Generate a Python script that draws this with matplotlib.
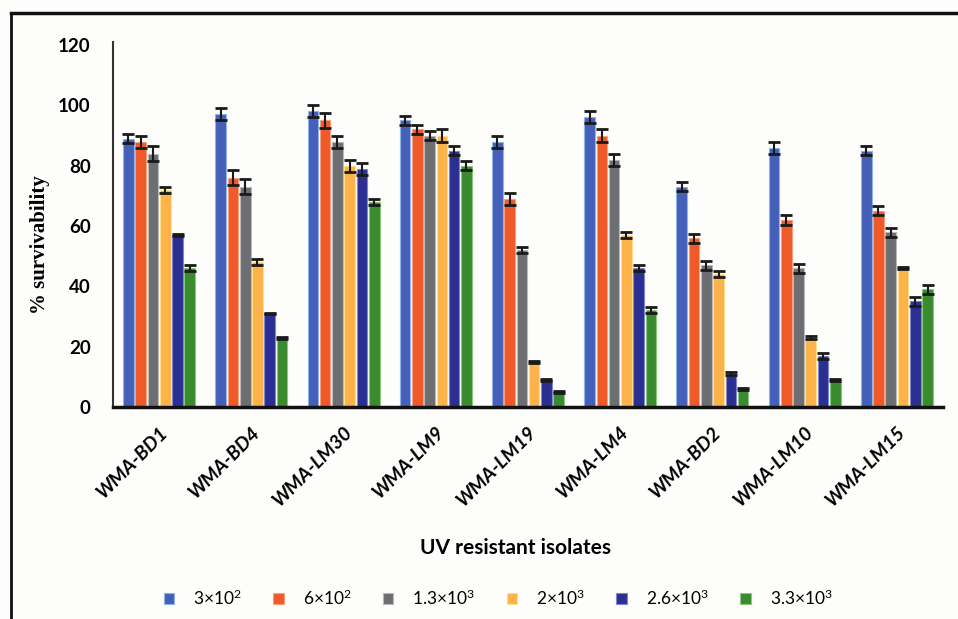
import matplotlib.pyplot as plt
import numpy as np
from matplotlib.lines import Line2D

plt.rcParams['font.family'] = ['Lato', 'DejaVu Sans']
plt.rcParams['mathtext.default'] = 'regular'

isolates = ["WMA-BD1", "WMA-BD4", "WMA-LM30", "WMA-LM9", "WMA-LM19",
            "WMA-LM4", "WMA-BD2", "WMA-LM10", "WMA-LM15"]
doses = ["3×10$^2$", "6×10$^2$", "1.3×10$^3$", "2×10$^3$", "2.6×10$^3$", "3.3×10$^3$"]

# % survivability per dose (rows) for each isolate (columns)
d1 = [89, 97, 98, 95, 88, 96, 73, 86, 85]
d2 = [88, 76, 95, 92, 69, 90, 56, 62, 65]
d3 = [84, 73, 88, 90, 52, 82, 47, 46, 58]
d4 = [72, 48, 80, 90, 15, 57, 44, 23, 46]
d5 = [57, 31, 79, 85, 9, 46, 11, 17, 35]
d6 = [46, 23, 68, 80, 5, 32, 6, 9, 39]

e1 = [1.5, 2, 2, 1.5, 2, 2, 1.5, 2, 1.5]
e2 = [2, 2.5, 2.5, 1.5, 2, 2, 1.5, 1.5, 1.5]
e3 = [2.5, 2.5, 2, 1.5, 1, 2, 1.5, 1.5, 1.5]
e4 = [1, 1, 2, 2, 0.3, 1, 1, 0.5, 0.3]
e5 = [0.3, 0.3, 2, 1.5, 0.3, 1, 0.5, 1, 1.5]
e6 = [1, 0.3, 1, 1.5, 0.3, 1, 0.3, 0.3, 1.5]

values = [d1, d2, d3, d4, d5, d6]
errors = [e1, e2, e3, e4, e5, e6]
colors = ["#4560B8", "#F05A28", "#6D6E72", "#FDB24A", "#2B2F92", "#3A8A2E"]
edges = ["#8FB4EA", "#F9A07A", "#B8B9BC", "#FFE08A", "#7F86D4", "#8CC77F"]

fig = plt.figure(figsize=(9.58, 6.19), dpi=100)
fig.patch.set_facecolor("#FDFDFB")
ax = fig.add_axes([113/958, 1-407/619, (943-113)/958, (407-42)/619])
ax.set_facecolor("#FDFDFB")

x = np.arange(len(isolates))
pitch = 0.133
width = 0.115
for i in range(6):
    pos = x + (i - 2.5) * pitch
    ax.bar(pos, values[i], width=width, color=colors[i], edgecolor=edges[i],
           linewidth=0.8, label=doses[i])
    ax.errorbar(pos, values[i], yerr=errors[i], fmt='none', ecolor='#1a1a1a',
                elinewidth=1.5, capsize=4.5, capthick=2)

ax.set_xlim(-0.5, 8.5)
ax.set_ylim(0, 121)
ax.set_yticks([0, 20, 40, 60, 80, 100, 120])
ax.tick_params(axis='y', length=0, pad=16, labelsize=13.5)
ax.tick_params(axis='x', length=0, pad=12, labelsize=14)
for lab in ax.get_yticklabels():
    lab.set_fontweight('bold')
ax.set_xticks(x)
ax.set_xticklabels(isolates, rotation=45, ha='right', rotation_mode='anchor',
                   fontweight='bold', fontstyle='italic')

for s in ['top', 'right']:
    ax.spines[s].set_visible(False)
ax.spines['left'].set_color('#333333')
ax.spines['left'].set_linewidth(1.5)
ax.spines['bottom'].set_color('#111111')
ax.spines['bottom'].set_linewidth(2.5)

fig.text(40/958, 1-245/619, "% survivability", fontsize=15, fontweight='bold',
         family=['Liberation Serif', 'DejaVu Serif'], rotation=90,
         ha='center', va='center')
fig.text(0.538, 1-548/619, "UV resistant isolates", fontsize=15, fontweight='bold',
         ha='center', va='center')

fig.legend(loc='center', bbox_to_anchor=(0.52, 1-598/619), ncol=6, frameon=False,
           fontsize=12.5, handlelength=0.6, handleheight=0.6, columnspacing=1.8,
           handletextpad=1.1)

# frame lines of the screenshot
fig.add_artist(Line2D([11/958, 11/958], [0, 1-13/619], color='#111111', lw=2,
                      transform=fig.transFigure))
fig.add_artist(Line2D([11/958, 1], [1-13/619, 1-13/619], color='#111111', lw=2.5,
                      transform=fig.transFigure))

plt.savefig("out.png", dpi=100, facecolor=fig.get_facecolor())
